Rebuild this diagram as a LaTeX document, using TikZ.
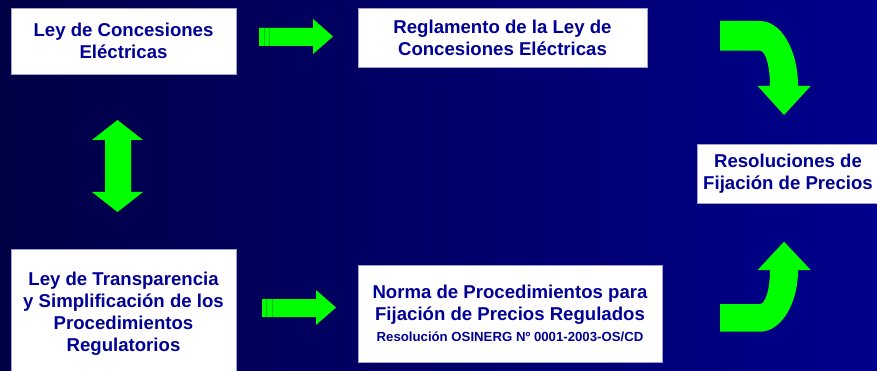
\documentclass[tikz,border=0pt]{standalone}
\usepackage{fontspec}
\setmainfont{Liberation Sans}
\definecolor{bgleft}{RGB}{0,0,70}
\definecolor{bgright}{RGB}{0,0,140}
\definecolor{txtblue}{RGB}{0,0,150}
\definecolor{boxedge}{RGB}{160,160,210}
\definecolor{arrowgreen}{RGB}{0,255,0}
\definecolor{stripegreen}{RGB}{0,190,0}
\tikzset{
  infobox/.style={draw=boxedge, line width=0.8pt, fill=white, text=txtblue,
    align=center, inner sep=0pt,
    font=\fontsize{18.6}{22}\selectfont\bfseries},
  blockarrow/.style={fill=arrowgreen, draw=none},
  stripeline/.style={draw=stripegreen, line width=0.6pt}
}
\begin{document}
\begin{tikzpicture}[x=1pt,y=-1pt]
\useasboundingbox (0,0) rectangle (877,371);
\shade[left color=bgleft, right color=bgright] (0,0) rectangle (877,371);

% boxes
\node[infobox, minimum width=225pt, minimum height=66pt] (ley) at (123.5,41)
  {Ley de Concesiones\\Eléctricas};
\node[infobox, minimum width=289pt, minimum height=59pt] (regl) at (502.5,37.5)
  {Reglamento de la Ley de\\Concesiones Eléctricas};
\node[infobox, minimum width=182pt, minimum height=59pt] (resol) at (788,173.5)
  {Resoluciones de\\Fijación de Precios};
\node[infobox, minimum width=225pt, minimum height=130pt] (transp) at (123.5,314)
  {Ley de Transparencia\\y Simplificación de los\\Procedimientos\\Regulatorios};
\node[infobox, minimum width=304pt, minimum height=97pt] (norma) at (510,313.5)
  {Norma de Procedimientos para\\Fijación de Precios Regulados\\[-0.4pt]
   {\fontsize{13.2}{14}\selectfont\bfseries Resolución OSINERG Nº 0001-2003-OS/CD}};

% striped right arrow (top)
\fill[blockarrow] (259,28) -- (313,28) -- (313,19) -- (333,36.5) -- (313,54)
  -- (313,46) -- (259,46) -- cycle;
\draw[stripeline] (264,28) -- (264,46);
\draw[stripeline] (269,28) -- (269,46);

% striped right arrow (bottom)
\fill[blockarrow] (262,299) -- (316,299) -- (316,290) -- (336,307.5) -- (316,325)
  -- (316,317) -- (262,317) -- cycle;
\draw[stripeline] (266.7,299) -- (266.7,317);
\draw[stripeline] (272.3,299) -- (272.3,317);

% up-down arrow
\fill[blockarrow] (117.5,120) -- (143,140) -- (131,140) -- (131,192) -- (143,192)
  -- (117.5,212) -- (92,192) -- (105,192) -- (105,140) -- (92,140) -- cycle;

% curved arrow down
\fill[blockarrow] (720,21) -- (760,21) .. controls (781,21) and (798,49.7) .. (798,86)
  -- (810.7,86) -- (784,115) -- (757.7,86) -- (770,86)
  .. controls (770,66) and (765.5,50.7) .. (760,50.7) -- (720,50.7) -- cycle;

% curved arrow up
\fill[blockarrow] (720,331.7) -- (760,331.7) .. controls (781,331.7) and (798,304) .. (798,270)
  -- (810.7,270) -- (784,241.7) -- (757.7,270) -- (770,270)
  .. controls (770,288.8) and (765.5,304) .. (760,304) -- (720,304) -- cycle;
\end{tikzpicture}
\end{document}
